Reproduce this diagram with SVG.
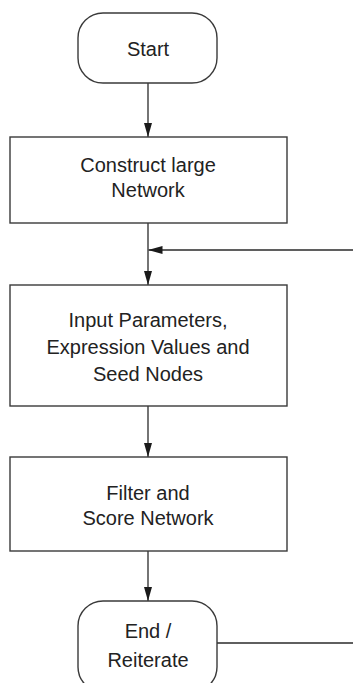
<svg xmlns="http://www.w3.org/2000/svg" width="353" height="683" viewBox="0 0 353 683">
  <style>
    .shape { fill: #ffffff; stroke: #3a3a3a; stroke-width: 1.4; }
    .wire { fill: none; stroke: #2a2a2a; stroke-width: 1.3; }
    .label { font-family: "Liberation Sans", Arial, Helvetica, sans-serif; font-size: 20px; fill: #222222; text-anchor: middle; }
  </style>
  <defs>
    <marker id="arrow" markerWidth="14" markerHeight="8" refX="14" refY="4" orient="auto" markerUnits="userSpaceOnUse">
      <path d="M0,0 L14,4 L0,8 Z" fill="#1a1a1a"/>
    </marker>
  </defs>

  <rect width="353" height="683" fill="#ffffff"/>

  <g id="connectors">
    <line class="wire" x1="148" y1="83" x2="148" y2="137" marker-end="url(#arrow)"/>
    <line class="wire" x1="148" y1="223" x2="148" y2="285" marker-end="url(#arrow)"/>
    <line class="wire" x1="353" y1="250" x2="148.5" y2="250" marker-end="url(#arrow)"/>
    <line class="wire" x1="148" y1="406" x2="148" y2="457" marker-end="url(#arrow)"/>
    <line class="wire" x1="148" y1="551" x2="148" y2="601" marker-end="url(#arrow)"/>
    <line class="wire" x1="217" y1="643" x2="353" y2="643"/>
  </g>

  <g id="start">
    <rect class="shape" x="78" y="13" width="139" height="70" rx="25" ry="25"/>
    <text class="label" x="148" y="56">Start</text>
  </g>

  <g id="construct">
    <rect class="shape" x="10" y="137" width="277" height="86"/>
    <text class="label" x="148" y="172">Construct large</text>
    <text class="label" x="148" y="197">Network</text>
  </g>

  <g id="input">
    <rect class="shape" x="10" y="285" width="277" height="121"/>
    <text class="label" x="148" y="327">Input Parameters,</text>
    <text class="label" x="148" y="354">Expression Values and</text>
    <text class="label" x="148" y="381">Seed Nodes</text>
  </g>

  <g id="filter">
    <rect class="shape" x="10" y="457" width="277" height="94"/>
    <text class="label" x="148" y="500">Filter and</text>
    <text class="label" x="148" y="525">Score Network</text>
  </g>

  <g id="end">
    <rect class="shape" x="78" y="601" width="139" height="91" rx="25" ry="25"/>
    <text class="label" x="148" y="638">End /</text>
    <text class="label" x="148" y="667">Reiterate</text>
  </g>
</svg>
